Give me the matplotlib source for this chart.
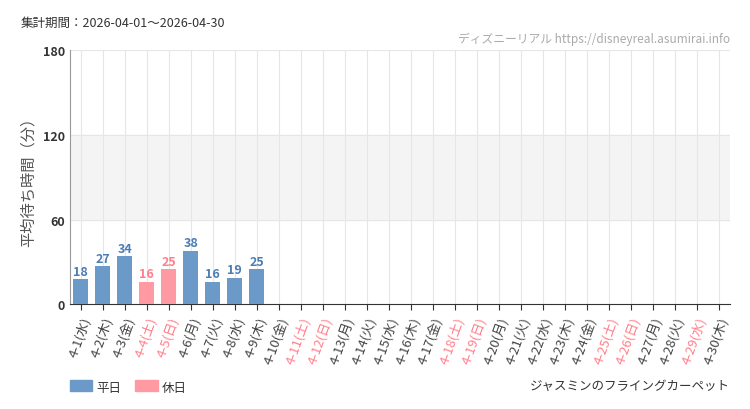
import matplotlib
matplotlib.use("Agg")
import matplotlib.pyplot as plt

plt.rcParams['font.family'] = ['Noto Sans CJK JP', 'DejaVu Sans']

wd = ['水','木','金','土','日','月','火']
dates = [f"4-{d}({wd[(d-1)%7]})" for d in range(1, 31)]
values = [18, 27, 34, 16, 25, 38, 16, 19, 25]
holiday = [False, False, False, True, True, False, False, False, False]
red_days = {4, 5, 11, 12, 18, 19, 25, 26, 29}

blue = '#6b9ac8'
pink = '#ff9aa2'
fig = plt.figure(figsize=(7.5, 4.1), dpi=100)
ax = fig.add_axes([0.093, 0.255, 0.88, 0.62])
ax.axhspan(60, 120, color='#f4f4f4', zorder=0)
for i, v in enumerate(values):
    c = pink if holiday[i] else blue
    ax.bar(i, v, width=0.7, color=c, zorder=3)
    ax.text(i, v + 1, str(v), ha='center', va='bottom', fontsize=9, fontweight='bold',
            color='#ff7f8a' if holiday[i] else '#4a7db5', zorder=4)
ax.set_xlim(-0.5, 29.5)
ax.set_ylim(0, 180)
ax.set_yticks([0, 60, 120, 180])
ax.set_yticklabels(['0', '60', '120', '180'], fontsize=9, color='#333', fontweight='bold')
ax.set_xticks(range(30))
ax.set_xticklabels(dates, rotation=70, ha='right', rotation_mode='anchor', fontsize=9.5)
for i, t in enumerate(ax.get_xticklabels()):
    t.set_color('#ff7f8a' if (i + 1) in red_days else '#444')
ax.grid(axis='x', color='#e6e6e6', lw=0.8, zorder=1)
for y in (60, 120, 180):
    ax.axhline(y, color='#e6e6e6', lw=0.8, zorder=1)
for s in ('top', 'right'):
    ax.spines[s].set_visible(False)
ax.spines['left'].set_color('#999')
ax.spines['bottom'].set_color('#333')
ax.tick_params(axis='y', length=0)
ax.tick_params(axis='x', length=4, color='#333')
ax.set_ylabel('平均待ち時間（分）', fontsize=11, color='#555')

fig.text(0.027, 0.935, '集計期間：2026-04-01〜2026-04-30', fontsize=9, color='#333')
fig.text(0.973, 0.895, 'ディズニーリアル https://disneyreal.asumirai.info', fontsize=8.5,
         color='#aaa', ha='right')
fig.text(0.973, 0.05, 'ジャスミンのフライングカーペット', fontsize=9, color='#333', ha='right')
fig.patches.append(plt.Rectangle((0.093, 0.045), 0.03, 0.025, color=blue, transform=fig.transFigure))
fig.text(0.128, 0.045, '平日', fontsize=9, color='#333')
fig.patches.append(plt.Rectangle((0.18, 0.045), 0.03, 0.025, color=pink, transform=fig.transFigure))
fig.text(0.215, 0.045, '休日', fontsize=9, color='#333')
fig.savefig('out.png')
